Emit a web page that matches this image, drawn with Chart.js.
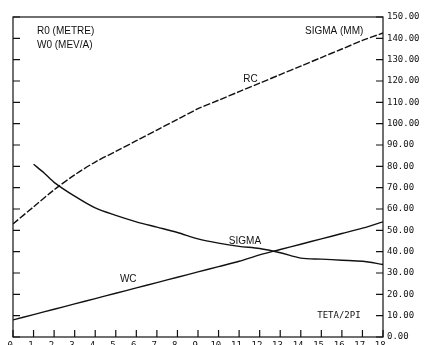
<!DOCTYPE html>
<html>
<head>
<meta charset="utf-8">
<script src="https://cdn.jsdelivr.net/npm/chart.js@4/dist/chart.umd.min.js"></script>
<style>
  html, body { margin: 0; padding: 0; background: #fff; overflow: hidden; }
  #wrap { width: 424px; height: 345px; overflow: hidden; }
</style>
</head>
<body>
<div id="wrap"><canvas id="c" width="424" height="350"></canvas></div>
<script>
// values (x = TETA/2PI)
var tetaRC = [0, 1, 2, 3, 4, 5, 6, 7, 8, 9, 10, 11, 12, 13, 14, 15, 16, 17, 18];
var rcValues = [53, 61, 69, 76, 82, 87, 92, 97, 102, 107, 111, 115, 119, 123, 127, 131, 135, 139, 142.5];
var wcValues = [8, 10.5, 13, 15.5, 18, 20.5, 23, 25.5, 28, 30.5, 33, 35.5, 38.5, 41, 43.5, 46, 48.5, 51, 54];
var tetaSigma = [1, 1.5, 2, 3, 4, 5, 6, 7, 8, 9, 10, 11, 12, 13, 14, 15, 16, 17, 18];
var sigmaValues = [81, 77, 72.5, 66, 60.5, 57, 54, 51.5, 49, 46, 44, 42.5, 41.5, 39.5, 37, 36.5, 36, 35.5, 34];

function pts(xs, ys) {
  var out = [];
  for (var i = 0; i < xs.length; i++) out.push({x: xs[i], y: ys[i]});
  return out;
}

var ink = '#111';
var labelFont = '10px "Liberation Sans", Arial, sans-serif';

// inward ticks, frame and the hand-placed captions of the old plot
var decor = {
  id: 'decor',
  afterDraw: function(chart) {
    var ctx = chart.ctx, a = chart.chartArea;
    ctx.save();
    ctx.strokeStyle = ink;
    ctx.lineWidth = 1.2;
    ctx.strokeRect(a.left, a.top, a.right - a.left, a.bottom - a.top);
    var sx = chart.scales.x, yl = chart.scales.y, yr = chart.scales.y2;
    ctx.beginPath();
    sx.ticks.forEach(function(t) {
      var px = sx.getPixelForValue(t.value);
      ctx.moveTo(px, a.bottom); ctx.lineTo(px, a.bottom - 7);
    });
    yl.ticks.forEach(function(t) {
      var py = yl.getPixelForValue(t.value);
      ctx.moveTo(a.left, py); ctx.lineTo(a.left + 7, py);
    });
    yr.ticks.forEach(function(t) {
      var py = yr.getPixelForValue(t.value);
      ctx.moveTo(a.right, py); ctx.lineTo(a.right - 7, py);
    });
    ctx.stroke();

    ctx.fillStyle = ink;
    ctx.font = labelFont;
    ctx.textBaseline = 'middle';
    ctx.fillText('R0 (METRE)', a.left + 24, a.top + 14);
    ctx.fillText('W0 (MEV/A)', a.left + 24, a.top + 28);
    ctx.fillText('SIGMA (MM)', a.left + 292, a.top + 14);
    ctx.fillText('RC', sx.getPixelForValue(11.2), yl.getPixelForValue(121));
    ctx.fillText('SIGMA', sx.getPixelForValue(10.5), yr.getPixelForValue(45));
    ctx.fillText('WC', sx.getPixelForValue(5.2), yl.getPixelForValue(27));
    ctx.font = '9px "DejaVu Sans Mono", monospace';
    ctx.fillText('TETA/2PI', sx.getPixelForValue(14.8), yl.getPixelForValue(10));
    ctx.restore();
  }
};

new Chart(document.getElementById('c'), {
  type: 'line',
  data: {
    datasets: [
      { label: 'RC', data: pts(tetaRC, rcValues), yAxisID: 'y',
        borderColor: ink, borderWidth: 1.4, borderDash: [7, 2], tension: 0.3 },
      { label: 'WC', data: pts(tetaRC, wcValues), yAxisID: 'y',
        borderColor: ink, borderWidth: 1.4, tension: 0.3 },
      { label: 'SIGMA', data: pts(tetaSigma, sigmaValues), yAxisID: 'y2',
        borderColor: ink, borderWidth: 1.4, tension: 0.3 }
    ]
  },
  options: {
    responsive: false,
    animation: false,
    events: [],
    layout: { padding: { top: 17, right: 0, left: 0, bottom: 0 } },
    elements: { point: { radius: 0 } },
    plugins: { legend: { display: false }, tooltip: { enabled: false } },
    scales: {
      x: {
        type: 'linear', min: 0, max: 18,
        grid: { display: false, drawTicks: false },
        border: { display: false },
        ticks: { stepSize: 1, color: ink, padding: 3, maxRotation: 0,
          font: { family: 'DejaVu Sans Mono', size: 9 },
          callback: function(v) { return v + '.'; } },
        afterFit: function(s) { s.height = 13; }
      },
      y: {
        position: 'left', min: 0, max: 150,
        grid: { display: false, drawTicks: false },
        border: { display: false },
        ticks: { stepSize: 10, display: false },
        afterFit: function(s) { s.width = 13; }
      },
      y2: {
        position: 'right', min: 0, max: 150,
        grid: { display: false, drawTicks: false },
        border: { display: false },
        ticks: { stepSize: 10, color: ink, padding: 4, crossAlign: 'near',
          font: { family: 'DejaVu Sans Mono', size: 9 },
          callback: function(v) { return v.toFixed(2); } },
        afterFit: function(s) { s.width = 41; }
      }
    }
  },
  plugins: [decor]
});
</script>
</body>
</html>
